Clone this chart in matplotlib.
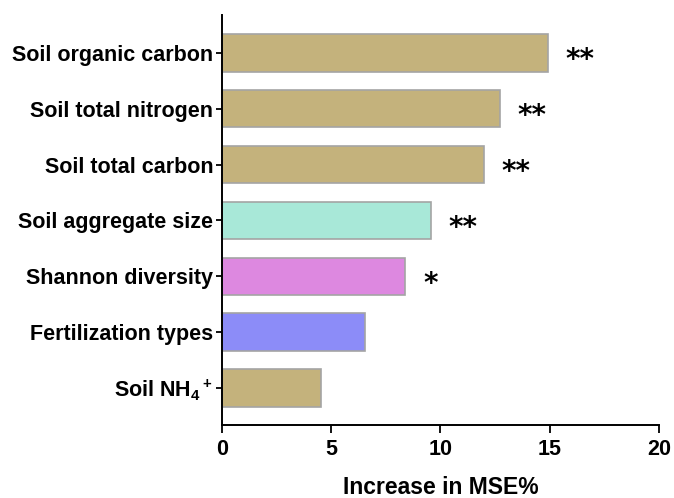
import matplotlib.pyplot as plt

plt.rcParams.update({
    "font.family": "Liberation Sans",
    "font.weight": "bold",
    "mathtext.fontset": "custom",
    "mathtext.rm": "Liberation Sans:bold",
    "mathtext.bf": "Liberation Sans:bold",
    "mathtext.default": "rm",
})

# Random forest importance, listed bottom to top
variables = [
    r"Soil NH$_4{}^+$",
    "Fertilization types",
    "Shannon diversity",
    "Soil aggregate size",
    "Soil total carbon",
    "Soil total nitrogen",
    "Soil organic carbon",
]
mse_increase = [4.55, 6.55, 8.4, 9.55, 12.0, 12.7, 14.9]
significance = ["", "", "*", "**", "**", "**", "**"]
bar_colors = ["#c4b27c", "#8c8cf8", "#dd88e0", "#a8e8d8",
              "#c4b27c", "#c4b27c", "#c4b27c"]

fig = plt.figure(figsize=(6.74, 4.98), dpi=100)
ax = fig.add_axes([0.329, 0.147, 0.649, 0.823])

pos = range(len(variables))
ax.barh(pos, mse_increase, height=0.67, color=bar_colors,
        edgecolor="#a4a4a4", linewidth=1.2)

for y, v, s in zip(pos, mse_increase, significance):
    if s:
        ax.text(v + 0.8, y - 0.13, s, ha="left", va="center",
                fontsize=20, fontweight="bold", family="DejaVu Sans")

ax.set_xlim(0, 20)
ax.set_ylim(-0.66, 6.68)
ax.set_xticks([0, 5, 10, 15, 20])
ax.set_yticks(list(pos))
ax.set_yticklabels(variables)
ax.tick_params(axis="both", labelsize=15.5, width=1.3, direction="out")
ax.tick_params(axis="x", length=6, pad=4)
ax.tick_params(axis="y", length=4, pad=2)
ax.set_xlabel("Increase in MSE%", fontsize=16.5, fontweight="bold", labelpad=12)

for side in ("top", "right"):
    ax.spines[side].set_visible(False)
for side in ("left", "bottom"):
    ax.spines[side].set_linewidth(1.4)

fig.savefig("out.png", dpi=100)
